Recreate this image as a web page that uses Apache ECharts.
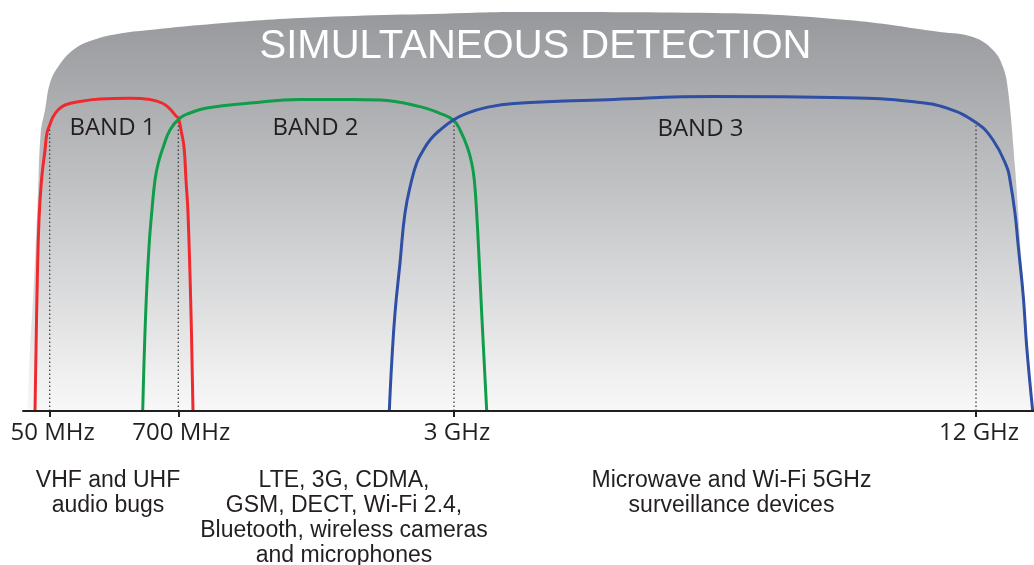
<!DOCTYPE html>
<html>
<head>
<meta charset="utf-8">
<script src="https://cdn.jsdelivr.net/npm/echarts@6/dist/echarts.min.js"></script>
<style>
html,body{margin:0;padding:0;background:#fff;}
#chart{width:1034px;height:565px;}
</style>
</head>
<body>
<div id="chart"></div>
<script>
// ---- data (x: position along the frequency scale, y: detection level) ----
const chartTitle = 'SIMULTANEOUS DETECTION';
const tickLabels = ['50 MHz', '700 MHz', '3 GHz', '12 GHz'];
const tickPositions = [49.7, 178.3, 454, 976];
const markerLevels = [71.5, 73.25, 72.75, 72];
const bandNames = ['BAND 1', 'BAND 2', 'BAND 3'];
const bandNotes = [
  'VHF and UHF\naudio bugs',
  'LTE, 3G, CDMA,\nGSM, DECT, Wi-Fi 2.4,\nBluetooth, wireless cameras\nand microphones',
  'Microwave and Wi-Fi 5GHz\nsurveillance devices'
];
const envelope = [[27.5,0],[30,15.25],[33,27.75],[35.5,40],[37.7,52.75],[40.7,69.5],[45,75.25],[50,82],[58,86],[73,90.25],[93,92.75],[123,94.5],[150,95.25],[200,96.5],[300,98.25],[467,99.5],[514,99.75],[714,99.5],[847,97.75],[940,94.75],[973,93.5],[993,90.25],[1003,86],[1008,80.25],[1015,61],[1022,36],[1033,0]];
const band1 = [[35,0],[36,15],[37.3,32.75],[39,47.75],[41.5,57.75],[45,65.25],[47,69.5],[49.7,71.5],[53,73.5],[58,75.25],[65,76.5],[80,77.4],[100,78],[130,78.2],[150,77.9],[162,77],[170,75.5],[176,73.75],[178.3,73.25],[181,70.25],[184,66],[186,57.75],[188,49.5],[191,24.5],[193,0]];
const band2 = [[142.7,0],[145.7,24.5],[149,41],[151.7,49.5],[155,57.75],[158.3,62],[163.3,66],[170,70.25],[180,73.25],[190,74.5],[206.7,75.75],[250,77],[300,77.9],[350,77.9],[380,77.75],[420,76.1],[440,74.4],[453.3,72.75],[460,70.25],[467.3,66],[471.7,62],[474.3,57.75],[476.7,49.4],[479.3,36.9],[481.7,24.4],[486.7,0]];
const band3 = [[389.3,0],[391.7,12],[395,24.5],[400,37],[405,49.5],[411.7,57.75],[416.7,62],[421.7,64.5],[430,67.75],[440,70.25],[453.3,72.75],[466.7,74.4],[486.7,75.9],[514,76.9],[614,77.9],[714,78.6],[847,78.3],[914,77.3],[947,75.7],[976,72.1],[993,67.75],[1006.7,61.1],[1010,57.75],[1015,49.4],[1018.3,41.1],[1023.3,28.6],[1026.7,16.1],[1032.7,0]];

const bandColors = ['#ee2a2f', '#0f9d4a', '#2f4fa5'];
const bandLabelPos = [[112.5,128],[315.5,128],[700.5,129]];
const notePos = [[108,468],[344,468],[731.5,468]];

const chart = echarts.init(document.getElementById('chart'));

const series = [];
series.push({
  type: 'line', data: envelope, smooth: 0.4, symbol: 'none',
  lineStyle: { width: 0 }, z: 1, silent: true,
  areaStyle: {
    opacity: 1,
    color: new echarts.graphic.LinearGradient(0, 0, 0, 1, [
      { offset: 0, color: '#97989b' },
      { offset: 0.5, color: '#c7c8ca' },
      { offset: 1, color: '#f8f8f8' }
    ])
  }
});
tickPositions.forEach((p, i) => {
  series.push({
    type: 'line', data: [[p, 0], [p, markerLevels[i]]], symbol: 'none', z: 2, silent: true,
    lineStyle: { color: '#333', width: 1.2, type: [1.5, 2.5] }
  });
});
[band1, band2, band3].forEach((b, i) => {
  series.push({
    type: 'line', data: b, smooth: 0.45, symbol: 'none',
    z: 3 + i, lineStyle: { color: bandColors[i], width: 3 }
  });
});

const graphics = [];
graphics.push({
  type: 'text', x: 535.5, y: 47, z: 10,
  style: { text: chartTitle, fill: '#ffffff', font: '40px "Liberation Sans", Arial, sans-serif', textAlign: 'center', textVerticalAlign: 'middle' }
});
bandNames.forEach((n, i) => {
  graphics.push({
    type: 'text', x: bandLabelPos[i][0], y: bandLabelPos[i][1], z: 10,
    style: { text: n, fill: '#231f20', font: '24px "Open Sans", sans-serif', textAlign: 'center', textVerticalAlign: 'middle' }
  });
});
bandNotes.forEach((n, i) => {
  graphics.push({
    type: 'text', x: notePos[i][0], y: notePos[i][1], z: 10,
    style: { text: n, fill: '#231f20', font: '23px "Liberation Sans", Arial, sans-serif', lineHeight: 25, textAlign: 'center', textVerticalAlign: 'top' }
  });
});

chart.setOption({
  animation: false,
  grid: { left: 23, right: 0, top: 11, bottom: 154, containLabel: false, outerBoundsMode: 'none' },
  xAxis: {
    type: 'value', min: 23, max: 1034, z: 10,
    axisLine: { show: true, onZero: false, lineStyle: { color: '#231f20', width: 2 } },
    axisTick: { show: true, customValues: tickPositions, length: 6, lineStyle: { color: '#231f20', width: 2 } },
    axisLabel: {
      show: true, customValues: tickPositions, margin: 10, color: '#231f20',
      fontSize: 24, fontFamily: '"Open Sans", sans-serif', padding: [0, 0, 0, 6],
      formatter: function (v) {
        let best = 0, d = Infinity;
        tickPositions.forEach((p, i) => { const dd = Math.abs(p - v); if (dd < d) { d = dd; best = i; } });
        return tickLabels[best];
      }
    },
    splitLine: { show: false }
  },
  yAxis: { type: 'value', min: 0, max: 100, show: false, splitLine: { show: false } },
  series: series,
  graphic: graphics
});
</script>
</body>
</html>
